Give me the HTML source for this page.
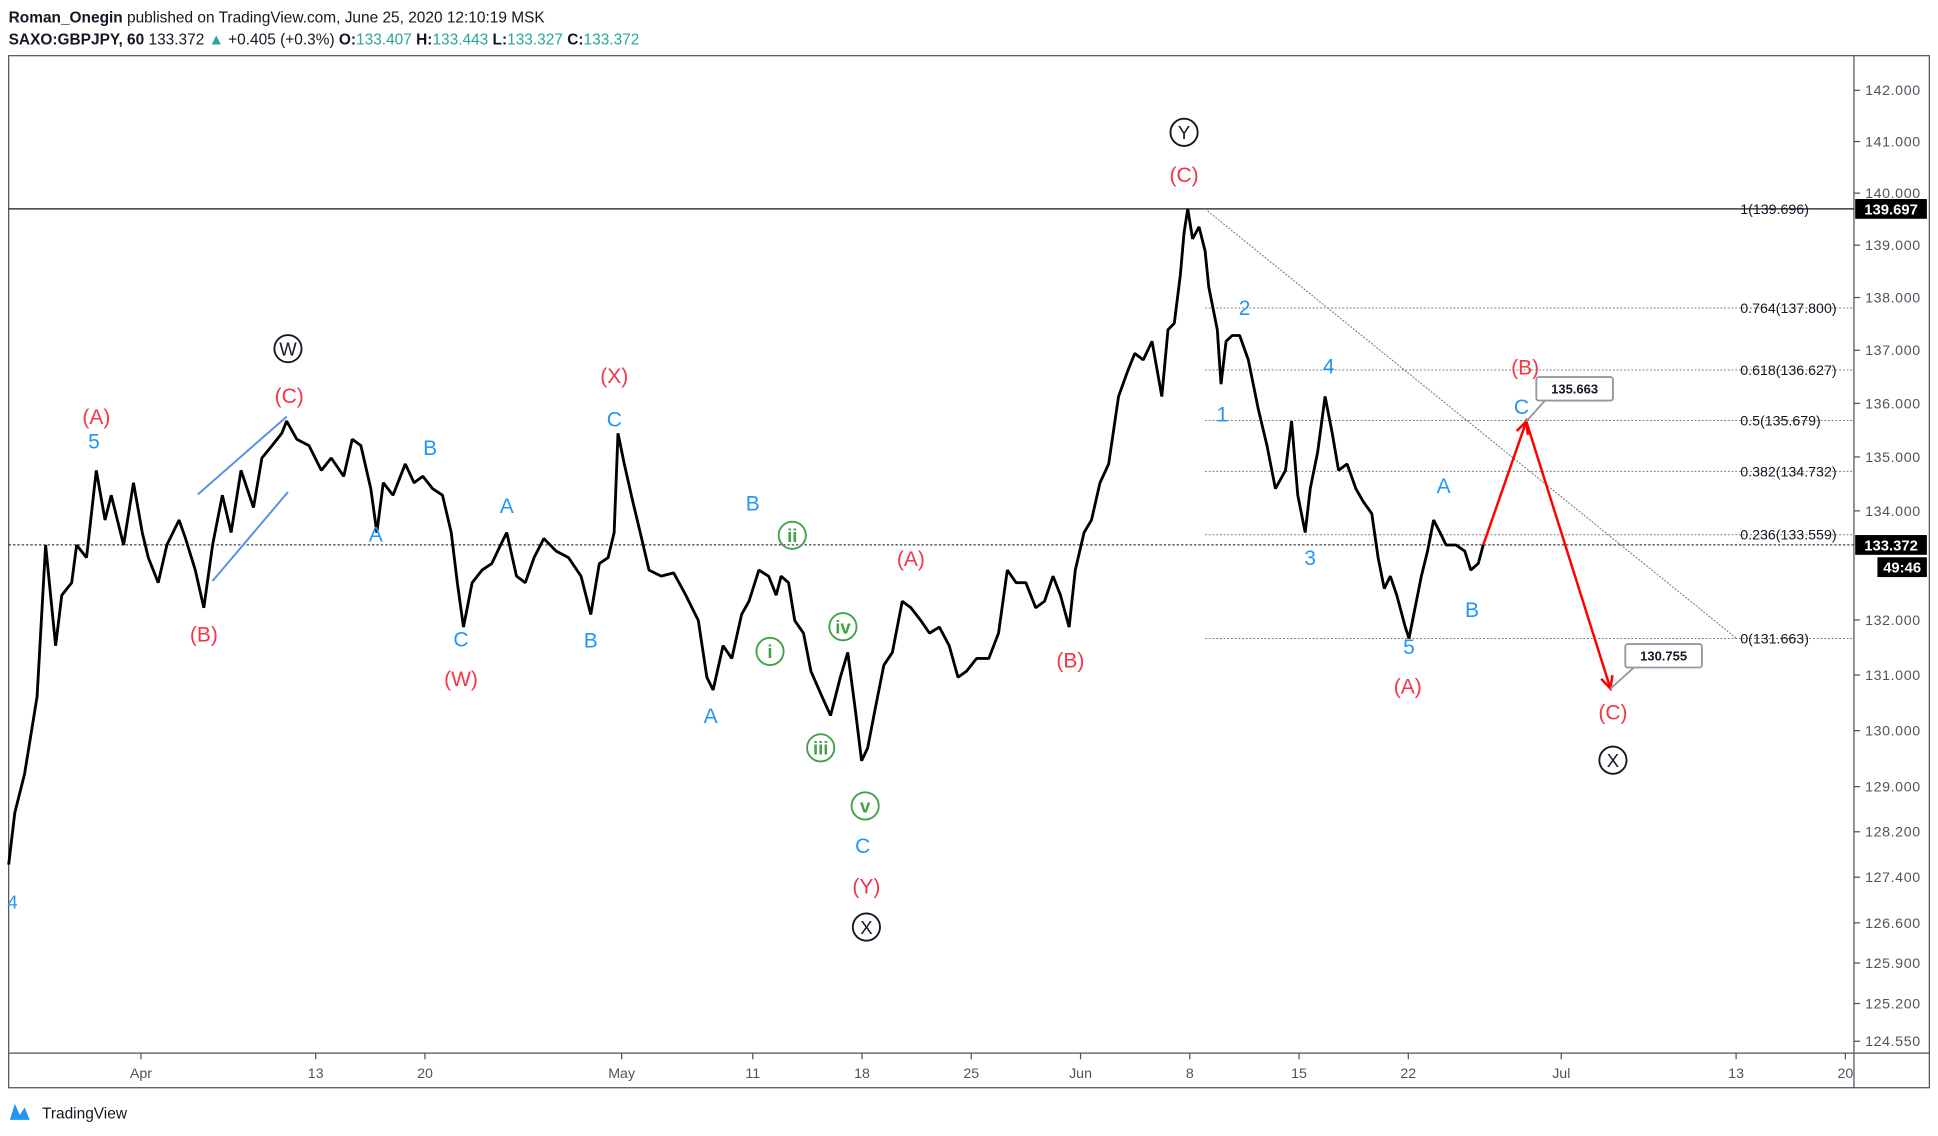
<!DOCTYPE html>
<html><head><meta charset="utf-8"><style>
html,body{margin:0;padding:0;background:#fff;}
svg{display:block;font-family:"Liberation Sans",sans-serif;}
</style></head><body>
<svg id="chart" width="1938" height="1136" viewBox="0 0 1568 919" xmlns="http://www.w3.org/2000/svg">
<text x="7" y="18" font-size="12.5" fill="#131722"><tspan font-weight="bold">Roman_Onegin</tspan> published on TradingView.com, June 25, 2020 12:10:19 MSK</text>
<text x="7" y="36" font-size="12.5" fill="#131722"><tspan font-weight="bold">SAXO:GBPJPY, 60</tspan> 133.372 <tspan fill="#26a69a">▲</tspan> +0.405 (+0.3%) <tspan font-weight="bold">O:</tspan><tspan fill="#26a69a">133.407</tspan> <tspan font-weight="bold">H:</tspan><tspan fill="#26a69a">133.443</tspan> <tspan font-weight="bold">L:</tspan><tspan fill="#26a69a">133.327</tspan> <tspan font-weight="bold">C:</tspan><tspan fill="#26a69a">133.372</tspan></text>
<rect x="7" y="45" width="1554" height="835" fill="none" stroke="#50535e" stroke-width="1"/>
<line x1="1500" y1="45" x2="1500" y2="880" stroke="#50535e"/>
<line x1="7" y1="852" x2="1561" y2="852" stroke="#50535e"/>
<g id="g-axes"></g><g id="g-fib"></g><g id="g-series"></g><g id="g-labels"></g><g id="g-tags"></g>
<text x="6" y="735" font-size="15" fill="#2196f3">4</text>
<g>
<path d="M8 906 L12 893 L16 902 L20 896 L24 906 Z" fill="#2196f3"/>
<text x="34" y="905" font-size="12.5" fill="#131722">TradingView</text>
</g>
</svg>
<script>
const NS="http://www.w3.org/2000/svg";
// ---- data ----
const priceTicks=[142,141,140,139,138,137,136,135,134,132,131,130,129,128.2,127.4,126.6,125.9,125.2,124.55];
const timeTickLabels=["Apr","13","20","May","11","18","25","Jun","8","15","22","Jul","13","20"];
const timeTickDays=[0,8,13,22,28,33,38,43,48,53,58,65,73,78];
const seriesDays=[-6.05,-5.77,-5.32,-4.75,-4.36,-3.9,-3.62,-3.17,-2.94,-2.49,-2.04,-1.64,-1.36,-0.79,-0.34,0.06,0.34,0.79,1.19,1.75,2.04,2.49,2.88,3.28,3.73,4.13,4.58,5.15,5.54,6.0,6.45,6.67,7.13,7.69,8.26,8.71,9.28,9.67,10.07,10.52,10.8,11.09,11.54,12.1,12.5,12.9,13.35,13.8,14.2,14.48,14.76,15.16,15.61,16.06,16.46,16.74,17.19,17.59,17.99,18.44,19.0,19.57,20.14,20.59,20.98,21.38,21.66,21.83,22.12,22.51,22.85,23.25,23.81,24.38,24.94,25.51,25.9,26.19,26.64,27.04,27.49,27.83,28.28,28.73,29.07,29.3,29.64,29.92,30.32,30.66,31.17,31.56,32.01,32.35,32.69,32.98,33.26,33.6,34.0,34.39,34.84,35.24,35.69,36.09,36.54,36.99,37.39,37.78,38.24,38.8,39.25,39.65,40.05,40.5,40.95,41.35,41.74,42.08,42.48,42.76,43.16,43.5,43.89,44.29,44.74,45.14,45.48,45.87,46.27,46.72,47.0,47.29,47.57,47.74,47.91,48.13,48.42,48.7,48.87,49.26,49.43,49.66,49.94,50.28,50.68,51.13,51.53,51.92,52.38,52.66,52.94,53.28,53.51,53.85,54.19,54.52,54.81,55.2,55.6,55.94,56.33,56.62,56.9,57.18,57.47,57.86,58.03,58.31,58.6,58.88,59.16,59.45,59.73,60.18,60.58,60.86,61.2,61.43];
const seriesPrices=[127.62,128.54,129.23,130.61,133.37,131.53,132.45,132.68,133.37,133.14,134.75,133.83,134.29,133.37,134.52,133.6,133.14,132.68,133.37,133.83,133.49,132.91,132.22,133.37,134.29,133.6,134.75,134.06,134.98,135.21,135.44,135.67,135.33,135.21,134.75,134.98,134.64,135.33,135.21,134.41,133.6,134.52,134.29,134.87,134.52,134.64,134.41,134.29,133.6,132.68,131.87,132.68,132.91,133.03,133.37,133.6,132.8,132.68,133.14,133.49,133.26,133.14,132.8,132.1,133.03,133.14,133.6,135.44,134.87,134.17,133.6,132.91,132.8,132.86,132.45,131.99,130.96,130.73,131.53,131.3,132.1,132.34,132.91,132.8,132.45,132.8,132.68,131.99,131.76,131.07,130.61,130.27,130.96,131.41,130.38,129.46,129.69,130.38,131.18,131.41,132.34,132.22,131.99,131.76,131.87,131.53,130.96,131.07,131.3,131.3,131.76,132.91,132.68,132.68,132.22,132.34,132.8,132.45,131.87,132.91,133.6,133.83,134.52,134.87,136.13,136.59,136.94,136.82,137.17,136.13,137.39,137.51,138.43,139.24,139.697,139.12,139.35,138.89,138.2,137.39,136.36,137.17,137.28,137.28,136.82,135.9,135.21,134.41,134.75,135.67,134.29,133.6,134.41,135.09,136.13,135.44,134.75,134.87,134.41,134.17,133.95,133.14,132.57,132.8,132.45,131.87,131.663,132.22,132.8,133.26,133.83,133.6,133.37,133.37,133.26,132.91,133.03,133.372];
const projDays=[61.43,63.4,67.25];
const projPrices=[133.372,135.663,130.755];
const fibRatios=["1","0.764","0.618","0.5","0.382","0.236","0"];
const fibPrices=[139.696,137.800,136.627,135.679,134.732,133.559,131.663];
const lastPrice=133.372, highPrice=139.697;
// ---- scales ----
const X=t=>114+t*17.68;
const Y=p=>73+5868*Math.log(142/p);
function mk(tag,attrs,parent,text){const e=document.createElementNS(NS,tag);for(const k in attrs)e.setAttribute(k,attrs[k]);if(text!==undefined)e.textContent=text;parent.appendChild(e);return e;}
const gA=document.getElementById("g-axes"),gF=document.getElementById("g-fib"),gS=document.getElementById("g-series"),gL=document.getElementById("g-labels"),gT=document.getElementById("g-tags");
priceTicks.forEach(p=>{const y=Y(p);
 const l=mk("line",{x1:1500,x2:1505,y1:y,y2:y,stroke:"#50535e"},gA);
 
 
 const t=mk("text",{x:1509,y:y+4,"font-size":11.5,fill:"#50535e","letter-spacing":"0.5"},gA,p.toFixed(3));
 
 
});
timeTickDays.forEach((d,i)=>{const x=X(d);
 const l=mk("line",{x1:x,x2:x,y1:852,y2:857,stroke:"#50535e"},gA);
 
 
 const t=mk("text",{x:x,y:872,"font-size":11.5,fill:"#50535e","text-anchor":"middle"},gA,timeTickLabels[i]);
 
 
});
const hl=mk("line",{x1:7,x2:1500,y1:Y(highPrice),y2:Y(highPrice),stroke:"#131722","stroke-width":1},gF);


const ll=mk("line",{x1:7,x2:1500,y1:Y(lastPrice),y2:Y(lastPrice),stroke:"#131722","stroke-width":0.8,"stroke-dasharray":"2,1.5"},gF);


fibPrices.forEach((p,i)=>{const y=Y(p);
 if(i>0){const l=mk("line",{x1:975,x2:1500,y1:y,y2:y,stroke:"#787b86","stroke-width":0.8,"stroke-dasharray":"1.5,1.5"},gF);
 
 }
 const t=mk("text",{x:1408,y:y+4,"font-size":11.5,fill:"#131722"},gF,fibRatios[i]+"("+p.toFixed(3)+")");
 
 
});
const tl=mk("line",{x1:975,y1:Y(139.696),x2:1405,y2:Y(131.663),stroke:"#787b86","stroke-width":0.9,"stroke-dasharray":"1.5,1.2"},gF);


[[160,400,232,337],[172,470,233,398]].forEach(w=>{const l=mk("line",{x1:w[0],y1:w[1],x2:w[2],y2:w[3],stroke:"#5b8fe6","stroke-width":1.6},gF);
 
 });
let d="";seriesDays.forEach((t,i)=>{d+=(i?"L":"M")+X(t).toFixed(1)+" "+Y(seriesPrices[i]).toFixed(1);});
const sp=mk("path",{d:d,fill:"none",stroke:"#000","stroke-width":2.3,"stroke-linejoin":"bevel"},gS);


let pd="";projDays.forEach((t,i)=>{pd+=(i?"L":"M")+X(t).toFixed(1)+" "+Y(projPrices[i]).toFixed(1);});
const pp=mk("path",{d:pd,fill:"none",stroke:"#ff0000","stroke-width":2},gS);


function arrow(i){const x=X(projDays[i]),y=Y(projPrices[i]),px=X(projDays[i-1]),py=Y(projPrices[i-1]);
 const a=Math.atan2(y-py,x-px),L=11,s=0.45;
 const e=mk("path",{d:`M${x-L*Math.cos(a-s)} ${y-L*Math.sin(a-s)}L${x} ${y}L${x-L*Math.cos(a+s)} ${y-L*Math.sin(a+s)}`,fill:"none",stroke:"#ff0000","stroke-width":2},gS);
 
 }
arrow(1);arrow(2);
function callout(i,bx,by){const x=X(projDays[i]),y=Y(projPrices[i]);
 const g=mk("g",{},gT);
 
 
 mk("line",{x1:x,y1:y,x2:bx+8,y2:by+18,stroke:"#9598a1","stroke-width":1.5},g);
 mk("rect",{x:bx,y:by,width:62,height:19,rx:2,fill:"#fff",stroke:"#9598a1","stroke-width":1.5},g);
 mk("text",{x:bx+31,y:by+13.5,"font-size":10.5,"font-weight":"bold","text-anchor":"middle",fill:"#131722"},g,projPrices[i].toFixed(3));}
callout(1,1243,305);callout(2,1315,521);
function tag(y,txt,x,w,name){const g=mk("g",{},gT);
 
 
 mk("rect",{x:x,y:y-8,width:w,height:16,fill:"#000"},g);
 mk("text",{x:x+w/2,y:y+4.5,"font-size":12,"font-weight":"bold","text-anchor":"middle",fill:"#fff"},g,txt);}
tag(Y(highPrice),highPrice.toFixed(3),1501,58,"high-price-tag");
tag(Y(lastPrice),lastPrice.toFixed(3),1501,58,"last-price-tag");
tag(Y(lastPrice)+18,"49:46",1519,40,"countdown-tag");
const R="#f23645",B="#2196f3",G="#43a047",K="#131722";
const labels=[["(A)",78,337,R],["5",76,357,B],["(B)",165,513,R],["W",233,282,K,1],["(C)",234,320,R],["A",304,432,B],["B",348,362,B],["C",373,517,B],["(W)",373,549,R],["A",410,409,B],["B",478,518,B],["(X)",497,304,R],["C",497,339,B],["A",575,579,B],["B",609,407,B],["ii",641,433,G,1],["i",623,527,G,1],["iii",664,605,G,1],["iv",682,507,G,1],["v",700,652,G,1],["C",698,684,B],["(Y)",701,717,R],["X",701,750,K,1],["(A)",737,452,R],["(B)",866,534,R],["Y",958,107,K,1],["(C)",958,141,R],["2",1007,249,B],["1",989,335,B],["4",1075,296,B],["3",1060,451,B],["5",1140,523,B],["A",1168,393,B],["B",1191,493,B],["(A)",1139,555,R],["(B)",1234,297,R],["C",1231,329,B],["(C)",1305,576,R],["X",1305,615,K,1]];
labels.forEach(l=>{const g=mk("g",{},gL);
 
 
 if(l[4]){mk("circle",{cx:l[1],cy:l[2],r:11,fill:"none",stroke:l[3],"stroke-width":1.5},g);
  mk("text",{x:l[1],y:l[2]+5.5,"font-size":15,"font-weight":l[3]===G?"bold":"normal","text-anchor":"middle",fill:l[3]},g,l[0]);}
 else mk("text",{x:l[1],y:l[2]+6,"font-size":17,"text-anchor":"middle",fill:l[3]},g,l[0]);
});
</script>
</body></html>
